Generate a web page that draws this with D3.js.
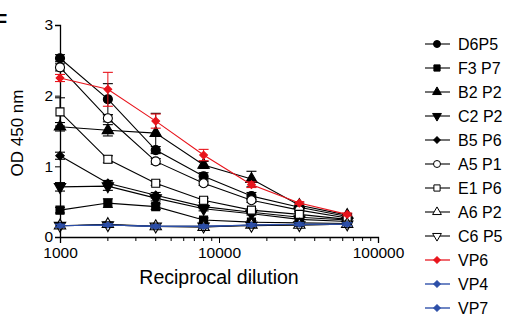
<!DOCTYPE html>
<html>
<head>
<meta charset="utf-8">
<script src="https://cdn.jsdelivr.net/npm/d3@7"></script>
<style>
  body { margin: 0; background: #fff; }
  text { font-family: "Liberation Sans", Arial, sans-serif; }
</style>
</head>
<body>
<div id="chart"></div>
<script>
const dilutions = [1000, 2000, 4000, 8000, 16000, 32000, 64000];
const xTickLabels = [1000, 10000, 100000];
const yTicks = [0, 1, 2, 3];

const seriesNames = ["D6P5", "F3 P7", "B2 P2", "C2 P2", "B5 P6", "A5 P1", "E1 P6", "A6 P2", "C6 P5", "VP6", "VP4", "VP7"];

const d6p5 = [2.53, 1.95, 1.23, 0.86, 0.58, 0.42, 0.29];
const f3p7 = [0.38, 0.48, 0.43, 0.24, 0.21, 0.20, 0.19];
const b2p2 = [1.56, 1.51, 1.47, 1.02, 0.82, 0.45, 0.31];
const c2p2 = [0.71, 0.72, 0.55, 0.40, 0.33, 0.25, 0.22];
const b5p6 = [1.15, 0.76, 0.59, 0.43, 0.35, 0.28, 0.24];
const a5p1 = [2.40, 1.68, 1.07, 0.76, 0.52, 0.38, 0.27];
const e1p6 = [1.77, 1.10, 0.76, 0.52, 0.38, 0.32, 0.25];
const a6p2 = [0.16, 0.18, 0.15, 0.14, 0.17, 0.17, 0.18];
const c6p5 = [0.16, 0.17, 0.15, 0.15, 0.16, 0.17, 0.18];
const vp6 = [2.25, 2.09, 1.64, 1.16, 0.74, 0.48, 0.32];
const vp4 = [0.16, 0.17, 0.15, 0.15, 0.17, 0.18, 0.18];
const vp7 = [0.16, 0.17, 0.15, 0.15, 0.17, 0.18, 0.18];

const d6p5Err = [0.05, 0.22, 0.05, 0.05, 0.05, 0.03, 0.02];
const f3p7Err = [0.04, 0.06, 0.04, 0.03, 0.02, 0.02, 0.02];
const b2p2Err = [0.06, 0.08, 0.28, 0.05, 0.11, 0.03, 0.02];
const c2p2Err = [0.06, 0.06, 0.04, 0.03, 0.02, 0.02, 0.02];
const b5p6Err = [0.05, 0.04, 0.04, 0.03, 0.02, 0.02, 0.02];
const a5p1Err = [0.05, 0.05, 0.04, 0.03, 0.03, 0.02, 0.02];
const e1p6Err = [0.20, 0.05, 0.03, 0.03, 0.02, 0.02, 0.02];
const a6p2Err = [0.03, 0.03, 0.02, 0.02, 0.02, 0.02, 0.02];
const c6p5Err = [0.03, 0.03, 0.02, 0.02, 0.02, 0.02, 0.02];
const vp6Err = [0.05, 0.24, 0.10, 0.08, 0.04, 0.02, 0.02];
const vp4Err = [0.02, 0.02, 0.02, 0.02, 0.02, 0.02, 0.02];
const vp7Err = [0.02, 0.02, 0.02, 0.02, 0.02, 0.02, 0.02];

const red = "#e8141c", blue = "#2d4fa8";

const series = [
  { name: seriesNames[0], values: d6p5, err: d6p5Err, shape: d3.symbolCircle, size: 64, fill: "#000", color: "#000" },
  { name: seriesNames[1], values: f3p7, err: f3p7Err, shape: d3.symbolSquare, size: 64, fill: "#000", color: "#000" },
  { name: seriesNames[2], values: b2p2, err: b2p2Err, shape: d3.symbolTriangle, size: 56, fill: "#000", color: "#000" },
  { name: seriesNames[3], values: c2p2, err: c2p2Err, shape: d3.symbolTriangle, size: 56, fill: "#000", color: "#000", rot: 180 },
  { name: seriesNames[4], values: b5p6, err: b5p6Err, shape: d3.symbolSquare, size: 36, fill: "#000", color: "#000", rot: 45 },
  { name: seriesNames[5], values: a5p1, err: a5p1Err, shape: d3.symbolCircle, size: 64, fill: "#fff", color: "#000" },
  { name: seriesNames[6], values: e1p6, err: e1p6Err, shape: d3.symbolSquare, size: 64, fill: "#fff", color: "#000" },
  { name: seriesNames[7], values: a6p2, err: a6p2Err, shape: d3.symbolTriangle, size: 56, fill: "#fff", color: "#000" },
  { name: seriesNames[8], values: c6p5, err: c6p5Err, shape: d3.symbolTriangle, size: 56, fill: "none", color: "#000", rot: 180 },
  { name: seriesNames[9], values: vp6, err: vp6Err, shape: d3.symbolSquare, size: 30, fill: red, color: red, rot: 45 },
  { name: seriesNames[10], values: vp4, err: vp4Err, shape: d3.symbolSquare, size: 14, fill: blue, color: blue, rot: 45 },
  { name: seriesNames[11], values: vp7, err: vp7Err, shape: d3.symbolSquare, size: 14, fill: blue, color: blue, rot: 45 }
];

const svg = d3.select("#chart").append("svg").attr("width", 512).attr("height", 320);

const x = d3.scaleLog().domain([1000, 100000]).range([60, 378]);
const y = d3.scaleLinear().domain([0, 3]).range([237, 25]);

// panel letter, cut at the left edge
svg.append("text").attr("x", -5).attr("y", 28).attr("font-size", 20).attr("font-weight", "bold").text("F");

// axes
const yAxis = svg.append("g").attr("transform", "translate(60,0)")
  .call(d3.axisLeft(y).tickValues(yTicks).tickFormat(d3.format("d")).tickSize(5).tickPadding(2));
const xAxis = svg.append("g").attr("transform", "translate(0,237)")
  .call(d3.axisBottom(x).tickValues(xTickLabels).tickFormat(d3.format("d")).tickSize(6).tickPadding(4));
const minor = d3.range(2, 10).map(k => k * 1000).concat(d3.range(2, 10).map(k => k * 10000));
xAxis.selectAll(".minor").data(minor).enter().append("line")
  .attr("x1", d => x(d)).attr("x2", d => x(d)).attr("y1", 0).attr("y2", 4)
  .attr("stroke", "#000");
[yAxis, xAxis].forEach(a => {
  a.select(".domain").attr("stroke-width", 1.3);
  a.selectAll("text").attr("font-size", 15.5).attr("fill", "#000").style("font-family", "Liberation Sans, Arial, sans-serif");
});

svg.append("text").attr("transform", "translate(23,133) rotate(-90)")
  .attr("text-anchor", "middle").attr("font-size", 17).text("OD 450 nm");
svg.append("text").attr("x", 219).attr("y", 284)
  .attr("text-anchor", "middle").attr("font-size", 19.5).text("Reciprocal dilution");

const line = d3.line().x((d, i) => x(dilutions[i])).y(d => y(d));
const marker = s => d3.symbol().type(s.shape).size(s.size)();

series.forEach(s => {
  const g = svg.append("g");
  g.append("path").attr("d", line(s.values)).attr("fill", "none").attr("stroke", s.color).attr("stroke-width", 1.1);
  s.values.forEach((v, i) => {
    const cx = x(dilutions[i]);
    const e = s.err[i];
    g.append("line").attr("x1", cx).attr("x2", cx).attr("y1", y(v - e)).attr("y2", y(v + e)).attr("stroke", s.color);
    [v - e, v + e].forEach(t => g.append("line").attr("x1", cx - 5).attr("x2", cx + 5)
      .attr("y1", y(t)).attr("y2", y(t)).attr("stroke", s.color).attr("stroke-width", 1.1));
  });
  g.selectAll(".m").data(s.values).enter().append("path")
    .attr("d", marker(s))
    .attr("transform", (d, i) => `translate(${x(dilutions[i])},${y(d)}) rotate(${s.rot || 0})`)
    .attr("fill", s.fill).attr("stroke", s.color).attr("stroke-width", 1.1);
});

// legend
const legend = svg.append("g");
series.forEach((s, i) => {
  const ly = 44 + i * 24;
  const lg = legend.append("g").attr("transform", `translate(0,${ly})`);
  const colored = s.color !== "#000";
  lg.append("line").attr("x1", 425).attr("x2", 450).attr("y1", 0).attr("y2", 0)
    .attr("stroke", colored ? (s.color === red ? "#f06a70" : "#6f86c4") : "#000")
    .attr("stroke-width", colored ? 2 : 1.1);
  const legSize = colored ? 22 : s.size * 0.6;
  lg.append("path").attr("d", d3.symbol().type(s.shape).size(legSize)())
    .attr("transform", `translate(437,0) rotate(${s.rot || 0})`)
    .attr("fill", s.fill === "none" ? "#fff" : s.fill).attr("stroke", s.color).attr("stroke-width", 1);
  lg.append("text").attr("x", 458).attr("y", 5.5).attr("font-size", 16).text(s.name);
});
</script>
</body>
</html>
